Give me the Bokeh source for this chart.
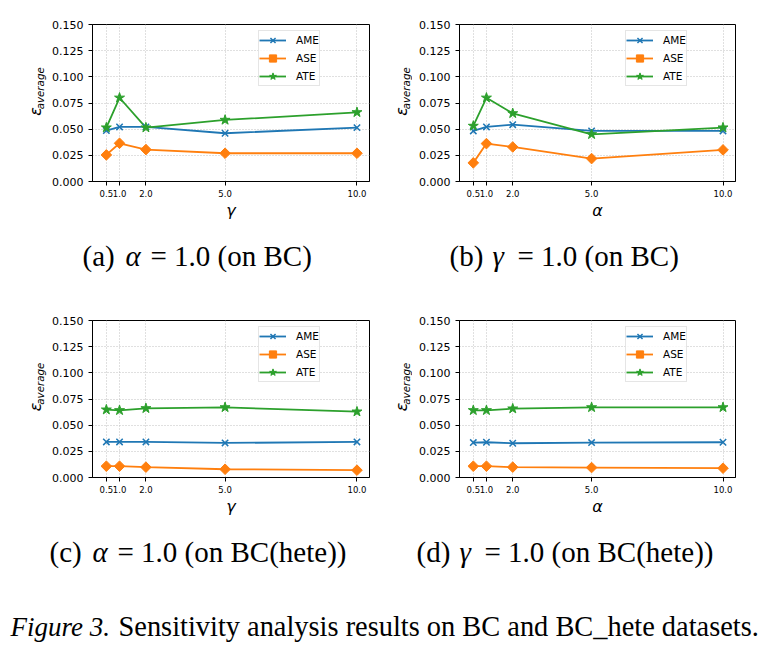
from math import pi
from bokeh.plotting import figure
from bokeh.layouts import column, row
from bokeh.models import Range1d, FixedTicker, PrintfTickFormatter
from bokeh.core.properties import value
from bokeh.embed import file_html
from bokeh.resources import INLINE

# ---------------- data ----------------
x_vals = [0.5, 1.0, 2.0, 5.0, 10.0]
y_ticks = [0.0, 0.025, 0.05, 0.075, 0.1, 0.125, 0.15]
series_names = ["AME", "ASE", "ATE"]

a_ame = [0.0486, 0.0521, 0.0521, 0.0461, 0.0515]
a_ase = [0.0254, 0.0365, 0.0305, 0.0270, 0.0270]
a_ate = [0.0515, 0.0800, 0.0515, 0.0588, 0.0661]

b_ame = [0.0483, 0.0521, 0.0543, 0.0483, 0.0483]
b_ase = [0.0178, 0.0362, 0.0330, 0.0219, 0.0302]
b_ate = [0.0531, 0.0800, 0.0651, 0.0451, 0.0515]

c_ame = [0.0340, 0.0340, 0.0340, 0.0330, 0.0340]
c_ase = [0.0108, 0.0108, 0.0099, 0.0079, 0.0070]
c_ate = [0.0648, 0.0642, 0.0661, 0.0670, 0.0629]

d_ame = [0.0334, 0.0337, 0.0327, 0.0334, 0.0337]
d_ase = [0.0108, 0.0108, 0.0099, 0.0095, 0.0089]
d_ate = [0.0642, 0.0642, 0.0658, 0.0670, 0.0670]

x_labels = ["γ", "α", "γ", "α"]
y_label_main = "ε"
y_label_sub = "average"

cap_tags = ["(a)", "(b)", "(c)", "(d)"]
cap_params = ["α", "γ", "α", "γ"]
cap_rest = ["= 1.0 (on BC)", "= 1.0 (on BC)", "= 1.0 (on BC(hete))", "= 1.0 (on BC(hete))"]
fig_cap_head = "Figure 3."
fig_cap_body = "Sensitivity analysis results on BC and BC_hete datasets."

# ---------------- style ----------------
COLORS = ["#1f77b4", "#ff7f0e", "#2ca02c"]
SANS = "DejaVu Sans"
SERIF = "Liberation Serif"
BASE_SHIFT = 0.38  # text anchor sits this many font-sizes above the baseline


def panel(xlabel, ame, ase, ate, w, bl, br, bt):
    p = figure(width=w, height=bt + 158 + 40,
               min_border_left=bl, min_border_right=br,
               min_border_top=bt, min_border_bottom=40,
               x_range=Range1d(-0.025, 10.475), y_range=Range1d(0, 0.15),
               output_backend="svg", toolbar_location=None)
    p.background_fill_color = "white"
    p.border_fill_color = "white"
    p.outline_line_color = "black"
    p.outline_line_width = 1

    xt = FixedTicker(ticks=x_vals)
    yt = FixedTicker(ticks=y_ticks)
    p.xaxis.ticker = xt
    p.yaxis.ticker = yt
    p.xgrid.ticker = xt
    p.ygrid.ticker = yt
    p.xaxis.formatter = PrintfTickFormatter(format="%.1f")
    p.yaxis.formatter = PrintfTickFormatter(format="%.3f")

    for ax in (p.xaxis, p.yaxis):
        ax.axis_line_color = "black"
        ax.major_tick_line_color = "black"
        ax.major_tick_out = 4
        ax.major_tick_in = 0
        ax.minor_tick_line_color = None
        ax.major_label_text_font = SANS
        ax.major_label_text_color = "black"
    p.xaxis.major_label_text_font_size = "8.5px"
    p.xaxis.major_label_standoff = 4
    p.yaxis.major_label_text_font_size = "11px"
    p.yaxis.major_label_standoff = 5

    p.xaxis.axis_label = xlabel
    p.xaxis.axis_label_text_font = SANS
    p.xaxis.axis_label_text_font_style = "italic"
    p.xaxis.axis_label_text_font_size = "16px"
    p.xaxis.axis_label_text_color = "black"
    p.xaxis.axis_label_standoff = 1

    p.grid.grid_line_color = "#c0c0c0"
    p.grid.grid_line_dash = "1 2"
    p.grid.grid_line_width = 1

    ys = [ame, ase, ate]
    for name, yv, c in zip(series_names, ys, COLORS):
        p.line(x_vals, yv, line_color=c, line_width=1.8, legend_label=name)
    p.scatter(x_vals, ame, marker="x", size=9, line_color=COLORS[0], line_width=1.5,
              legend_label=series_names[0])
    p.scatter(x_vals, ase, marker="square", angle=pi / 4, size=7.5,
              fill_color=COLORS[1], line_color=COLORS[1], legend_label=series_names[1])
    p.scatter(x_vals, ate, marker="star", size=10.5,
              fill_color=COLORS[2], line_color=COLORS[2], legend_label=series_names[2])

    lg = p.legend[0]
    lg.location = (166, 95)
    lg.label_text_font = SANS
    lg.label_text_font_size = "10.5px"
    lg.label_text_color = "black"
    lg.glyph_width = 27
    lg.glyph_height = 18
    lg.label_height = 18
    lg.spacing = 0
    lg.padding = 0
    lg.margin = 0
    lg.label_standoff = 10
    lg.border_line_color = "#cccccc"
    lg.border_line_width = 1
    lg.background_fill_alpha = 0.8
    return p


def blank(x0, y0, w, h):
    # data x = page x, data y = -(page y)
    c = figure(width=w, height=h, x_range=Range1d(x0, x0 + w),
               y_range=Range1d(-(y0 + h), -y0),
               min_border=0, output_backend="svg", toolbar_location=None,
               x_axis_location=None, y_axis_location=None)
    c.outline_line_color = None
    c.grid.visible = False
    c.background_fill_color = "white"
    c.border_fill_color = "white"
    return c


def put(c, x, base, txt, size, font, style="normal", angle=0.0):
    # place text so that its baseline lies at `base` (page px)
    s = BASE_SHIFT * size
    if angle:
        c.text(x=[x - s], y=[-base], text=[txt], angle=angle,
               text_font=value(font), text_font_style=style, text_font_size=f"{size}px",
               text_baseline="alphabetic", text_align="left", text_color="black")
    else:
        c.text(x=[x], y=[-(base - s)], text=[txt],
               text_font=value(font), text_font_style=style, text_font_size=f"{size}px",
               text_baseline="alphabetic", text_align="left", text_color="black")


def ylab(x0, y0, w, h, bx, by):
    c = blank(x0, y0, w, h)
    put(c, bx, by, y_label_main, 16, SANS, "italic", pi / 2)
    put(c, bx + 2, by - 9, y_label_sub, 10.3, SANS, "italic", pi / 2)
    return c


def caption(c, xs, base, i):
    put(c, xs, base, cap_tags[i], 29, SERIF)
    put(c, xs + 43, base, cap_params[i], 29, SERIF, "italic")
    put(c, xs + 68, base, cap_rest[i], 29, SERIF)


# top row (page y 0..222)
la = ylab(0, 0, 48, 222, 41, 129)
pa = panel(x_labels[0], a_ame, a_ase, a_ate, 332, 44, 11, 24)
lb = ylab(380, 0, 32, 222, 407, 129)
pb = panel(x_labels[1], b_ame, b_ase, b_ate, 343, 47, 20, 24)

cap1 = blank(0, 222, 763, 78)
caption(cap1, 82, 267, 0)
caption(cap1, 449, 267, 1)

# bottom row (page y 300..518)
lc = ylab(0, 300, 48, 218, 41, 426)
pc = panel(x_labels[2], c_ame, c_ase, c_ate, 332, 44, 11, 20)
ld = ylab(380, 300, 32, 218, 407, 426)
pd = panel(x_labels[3], d_ame, d_ase, d_ate, 343, 47, 20, 20)

cap2 = blank(0, 518, 763, 136)
caption(cap2, 49, 563, 2)
caption(cap2, 416, 563, 3)
put(cap2, 10, 637, fig_cap_head, 27, SERIF, "italic")
put(cap2, 118, 637, fig_cap_body, 28.4, SERIF)

layout = column(row(la, pa, lb, pb), cap1, row(lc, pc, ld, pd), cap2)

open("out.html", "w").write(file_html(layout, INLINE))
